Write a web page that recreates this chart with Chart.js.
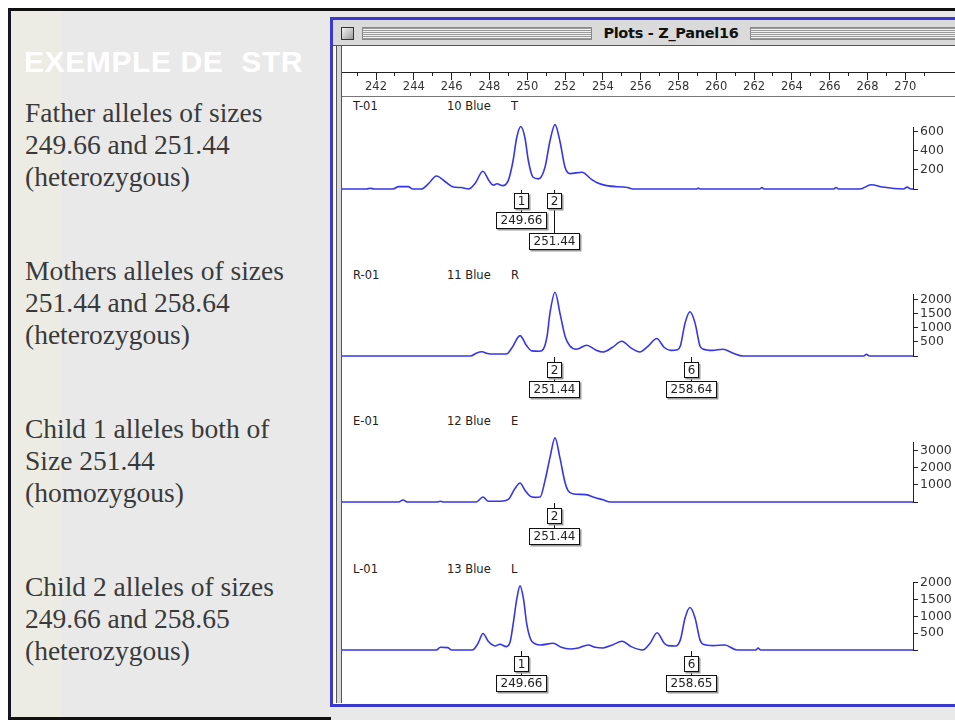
<!DOCTYPE html>
<html><head><meta charset="utf-8">
<script src="https://cdn.jsdelivr.net/npm/chart.js@4.4.1/dist/chart.umd.min.js"></script>
<style>
html,body{margin:0;padding:0;}
body{width:955px;height:720px;position:relative;overflow:hidden;background:#fff;font-family:"DejaVu Sans",sans-serif;}
.a{position:absolute;}
#slide{left:8px;top:8px;width:1000px;height:712px;background:#e9e9e9;border-top:3px solid #111;border-left:3px solid #15152a;box-sizing:border-box;}
#strip{left:11px;top:11px;width:51px;height:706px;background:#ececE4;}
#botline{left:8px;top:717px;width:323px;height:3px;background:#111;}
.heading{left:24px;top:45px;color:#fff;font:bold 30px/34px "Liberation Sans",Arial,sans-serif;white-space:pre;letter-spacing:0.6px;}
.para{left:25px;color:#3a3a3a;font:27.5px/32px "Liberation Serif","Times New Roman",serif;white-space:nowrap;}
#win{left:330px;top:17px;width:700px;height:690px;border:3px solid #3a3ad2;background:#fff;box-sizing:border-box;}
#titlebar{left:333px;top:20px;width:640px;height:26px;background:#dadada;border-bottom:1px solid #555;box-sizing:border-box;}
.stripes{top:27px;height:13px;background:repeating-linear-gradient(to bottom,#9a9a9a 0px,#9a9a9a 1px,#f2f2f2 1px,#f2f2f2 2px);border:1px solid #888;box-sizing:border-box;}
#close{left:341px;top:27px;width:13px;height:13px;border:1px solid #333;background:linear-gradient(135deg,#f4f4f4,#9a9a9a);box-sizing:border-box;}
#title{left:592px;top:25px;width:158px;text-align:center;font:bold 14.5px/17px "DejaVu Sans",sans-serif;letter-spacing:-0.3px;color:#111;background:#dadada;}
#rulerbg{left:342px;top:46px;width:620px;height:51px;background:#fff;border-bottom:1px solid #777;box-sizing:border-box;}
#lframe{left:336px;top:46px;width:6px;height:657px;border-left:1px solid #555;border-right:1px solid #555;background:#d8d8d8;box-sizing:border-box;}
.hdr{font:11.5px/14px "DejaVu Sans",sans-serif;color:#222;white-space:nowrap;}
canvas{position:absolute;}
</style>
</head>
<body>
<div id="slide" class="a"></div>
<div id="strip" class="a"></div>
<div id="botline" class="a"></div>
<div class="a heading">EXEMPLE DE  STR</div>
<div class="a para" style="top:97px">Father alleles of sizes<br>249.66 and 251.44<br>(heterozygous)</div>
<div class="a para" style="top:255px">Mothers alleles of sizes<br>251.44 and 258.64<br>(heterozygous)</div>
<div class="a para" style="top:413px">Child 1 alleles both of<br>Size 251.44<br>(homozygous)</div>
<div class="a para" style="top:571px">Child 2 alleles of sizes<br>249.66 and 258.65<br>(heterozygous)</div>

<div id="win" class="a"></div>
<div id="titlebar" class="a"></div>
<div class="a stripes" style="left:362px;width:230px"></div>
<div class="a stripes" style="left:750px;width:220px"></div>
<div id="close" class="a"></div>
<div id="title" class="a">Plots - Z_Panel16</div>
<div id="rulerbg" class="a"></div>
<div id="lframe" class="a"></div>

<div class="a hdr" style="left:353px;top:99px">T-01</div>
<div class="a hdr" style="left:447px;top:99px">10 Blue</div>
<div class="a hdr" style="left:511px;top:99px">T</div>
<div class="a hdr" style="left:353px;top:268px">R-01</div>
<div class="a hdr" style="left:447px;top:268px">11 Blue</div>
<div class="a hdr" style="left:511px;top:268px">R</div>
<div class="a hdr" style="left:353px;top:414px">E-01</div>
<div class="a hdr" style="left:447px;top:414px">12 Blue</div>
<div class="a hdr" style="left:511px;top:414px">E</div>
<div class="a hdr" style="left:353px;top:562px">L-01</div>
<div class="a hdr" style="left:447px;top:562px">13 Blue</div>
<div class="a hdr" style="left:511px;top:562px">L</div>

<canvas id="ruler" width="613" height="49" style="left:342px;top:47px"></canvas>
<canvas id="cT" width="633" height="141" style="left:342px;top:118px"></canvas>
<canvas id="cR" width="633" height="141" style="left:342px;top:285px"></canvas>
<canvas id="cE" width="633" height="139" style="left:342px;top:433px"></canvas>
<canvas id="cL" width="633" height="127" style="left:342px;top:573px"></canvas>

<script>
// ---------- DATA ----------
// ruler (size axis, bp)
const RULER_MINOR = [241,242,243,244,245,246,247,248,249,250,251,252,253,254,255,256,257,258,259,260,261,262,263,264,265,266,267,268,269,270,271];
const RULER_LABELS = [242,244,246,248,250,252,254,256,258,260,262,264,266,268,270];

// T-01 (father) trace: size (bp) / fluorescence (RFU)
const T_SIZE = [240.2,241.5,241.7,241.9,242.9,243.2,243.7,243.95,244.4,244.75,245.2,245.7,246.1,246.5,246.9,247.25,247.65,248.0,248.2,248.4,248.7,249.0,249.25,249.44,249.66,249.88,250.06,250.3,250.6,250.94,251.2,251.47,251.73,252.0,252.26,252.9,253.4,253.7,254.2,255.3,255.6,258.95,259.05,259.15,262.3,262.42,262.55,266.2,266.34,266.5,267.6,268.2,268.8,269.9,270.1,270.3,270.41];
const T_RFU  = [0,0,8,0,0,25,25,0,0,50,135,70,20,15,0,60,185,80,40,55,35,90,294,531,650,531,294,125,105,226,497,670,497,226,160,175,100,65,35,15,0,0,10,0,0,15,0,0,15,0,0,45,20,0,20,0,0];
const T_TICKS = [0,200,400,600];
const T_ALLELE_SIZES = [249.66,251.44];
const T_ALLELE_NUMS = ['1','2'];
const T_ALLELE_LABELS = ['249.66','251.44'];

// R-01 (mother)
const R_SIZE = [240.2,247.0,247.3,247.6,247.9,248.2,248.9,249.2,249.62,249.95,250.25,250.65,250.85,251.05,251.2,251.47,251.75,252.0,252.26,252.6,253.15,253.6,254.0,254.5,255.0,255.5,255.95,256.4,256.85,257.25,257.6,257.95,258.1,258.35,258.61,258.88,259.14,259.3,259.8,260.35,260.9,261.4,267.8,267.95,268.1,270.41];
const R_RFU  = [0,0,100,150,90,70,70,300,720,380,180,170,240,700,1500,2250,1450,700,350,240,380,220,140,300,520,280,140,350,620,300,200,220,350,1160,1560,1160,350,250,200,240,100,0,0,60,0,0];
const R_TICKS = [0,500,1000,1500,2000];
const R_ALLELE_SIZES = [251.44,258.64];
const R_ALLELE_NUMS = ['2','6'];
const R_ALLELE_LABELS = ['251.44','258.64'];

// E-01 (child 1)
const E_SIZE = [240.2,243.2,243.43,243.65,245.2,245.4,245.6,247.3,247.66,247.95,248.6,249.0,249.35,249.62,249.88,250.15,250.4,250.68,250.94,251.2,251.47,251.73,252.0,252.16,252.4,253.1,253.6,254.0,254.4,270.41];
const E_RFU  = [0,0,120,0,0,40,0,0,290,40,40,150,780,1100,680,340,270,290,1240,2560,3720,2560,1130,660,480,430,250,130,0,0];
const E_TICKS = [0,1000,2000,3000];
const E_ALLELE_SIZES = [251.44];
const E_ALLELE_NUMS = ['2'];
const E_ALLELE_LABELS = ['251.44'];

// L-01 (child 2)
const L_SIZE = [240.2,245.2,245.4,245.8,246.0,247.1,247.4,247.66,247.95,248.3,248.55,248.9,249.1,249.25,249.45,249.62,249.8,249.98,250.25,250.7,251.37,251.8,252.26,252.7,253.22,253.6,254.0,254.5,255.02,255.5,256.1,256.5,256.87,257.25,257.45,257.85,258.1,258.35,258.61,258.88,259.14,259.3,259.85,260.45,261.1,262.1,262.21,262.35,270.41];
const L_RFU  = [0,0,80,70,0,0,200,490,250,120,170,100,250,750,1520,1900,1520,750,250,150,200,80,30,60,150,80,60,150,260,100,0,200,510,200,130,120,300,950,1260,950,300,170,130,150,0,0,60,0,0];
const L_TICKS = [0,500,1000,1500,2000];
const L_ALLELE_SIZES = [249.66,258.65];
const L_ALLELE_NUMS = ['1','6'];
const L_ALLELE_LABELS = ['249.66','258.65'];

// ---------- LAYOUT / STYLE ----------
const X_MIN = 240.2, X_MAX = 270.41, RULER_MAX = 272.63;
const TRACE_COLOR = '#3535ec';
const FONT = '"DejaVu Sans", sans-serif';

function drawBox(ctx, x, y, w, h, text){
  ctx.fillStyle = '#9a9a9a';
  ctx.fillRect(x + 1.5, y + 1.5, w, h);
  ctx.fillStyle = '#fff';
  ctx.fillRect(x, y, w, h);
  ctx.strokeStyle = '#111';
  ctx.lineWidth = 1;
  ctx.strokeRect(x + 0.5, y + 0.5, w - 1, h - 1);
  ctx.fillStyle = '#222';
  ctx.fillText(text, x + w / 2, y + h / 2 + 0.5);
}

const alleleMarks = {
  id: 'alleleMarks',
  afterDatasetsDraw(chart, args, opts){
    if (!opts || !opts.sizes) return;
    const ctx = chart.ctx, xs = chart.scales.x, ys = chart.scales.y;
    const base = Math.round(ys.getPixelForValue(0));
    ctx.save();
    ctx.font = '12px ' + FONT;
    ctx.textAlign = 'center';
    ctx.textBaseline = 'middle';
    opts.sizes.forEach((s, i) => {
      const px = Math.round(xs.getPixelForValue(s)) + 0.5;
      const numTop = base + opts.numOffset, numW = 15, numH = 16;
      const labTop = base + opts.labOffset + (opts.rows[i] || 0) * 21, labH = 17;
      const labW = Math.ceil(ctx.measureText(opts.labels[i]).width) + 9;
      ctx.strokeStyle = '#111';
      ctx.lineWidth = 1;
      ctx.beginPath();
      ctx.moveTo(px, base + 1); ctx.lineTo(px, numTop);
      ctx.moveTo(px, numTop + numH); ctx.lineTo(px, labTop);
      ctx.stroke();
      drawBox(ctx, Math.round(px - numW / 2), numTop, numW, numH, opts.nums[i]);
      drawBox(ctx, Math.round(px - labW / 2), labTop, labW, labH, opts.labels[i]);
    });
    ctx.restore();
  }
};

function panel(id, sizes, rfu, yMax, ticks, aSizes, aNums, aLabels, rows, padTop, padBottom, numOffset, labOffset){
  new Chart(document.getElementById(id), {
    type: 'line',
    data: {
      datasets: [{
        data: sizes.map((s, i) => ({x: s, y: rfu[i]})),
        borderColor: TRACE_COLOR,
        borderWidth: 1.6,
        pointRadius: 0,
        cubicInterpolationMode: 'monotone',
        fill: false,
        clip: false
      }]
    },
    options: {
      responsive: false,
      animation: false,
      devicePixelRatio: 1,
      layout: {padding: {top: padTop, bottom: padBottom, left: 0, right: 0}},
      plugins: {
        legend: {display: false},
        tooltip: {enabled: false},
        alleleMarks: {sizes: aSizes, nums: aNums, labels: aLabels, rows: rows, numOffset: numOffset, labOffset: labOffset}
      },
      scales: {
        x: {type: 'linear', display: false, min: X_MIN, max: X_MAX},
        y: {
          type: 'linear', position: 'right', min: 0, max: yMax,
          afterBuildTicks: s => { s.ticks = ticks.map(v => ({value: v})); },
          afterFit: s => { s.width = 62; },
          ticks: {autoSkip: false, padding: 2, color: '#333', font: {family: FONT, size: 12.5},
                  callback: v => v === 0 ? '' : String(v)},
          grid: {display: true, drawOnChartArea: false, drawTicks: true, tickLength: 5, tickColor: '#222', tickWidth: 1},
          border: {display: true, color: '#222', width: 1}
        }
      }
    },
    plugins: [alleleMarks]
  });
}

// ruler
new Chart(document.getElementById('ruler'), {
  type: 'line',
  data: {datasets: []},
  options: {
    responsive: false, animation: false, devicePixelRatio: 1,
    layout: {padding: {top: 25, bottom: 0, left: 0, right: 0}},
    plugins: {legend: {display: false}, tooltip: {enabled: false}},
    scales: {
      x: {
        type: 'linear', position: 'top', min: X_MIN, max: RULER_MAX,
        afterBuildTicks: s => { s.ticks = RULER_MINOR.map(v => ({value: v})); },
        ticks: {display: false},
        grid: {display: true, drawOnChartArea: true, drawTicks: false, color: '#222', lineWidth: 1},
        border: {display: true, color: '#222', width: 1}
      },
      x2: {
        type: 'linear', axis: 'x', position: 'bottom', min: X_MIN, max: RULER_MAX,
        afterBuildTicks: s => { s.ticks = RULER_LABELS.map(v => ({value: v})); },
        afterFit: s => { s.height = 20; },
        ticks: {autoSkip: false, maxRotation: 0, padding: 0, color: '#333', font: {family: FONT, size: 11.5}},
        grid: {display: true, drawOnChartArea: false, drawTicks: true, tickLength: 4, tickColor: '#222'},
        border: {display: false}
      },
      y: {display: false, min: 0, max: 1}
    }
  }
});

panel('cT', T_SIZE, T_RFU, 640, T_TICKS, T_ALLELE_SIZES, T_ALLELE_NUMS, T_ALLELE_LABELS, [0,1], 8, 70, 4, 23);
panel('cR', R_SIZE, R_RFU, 2170, R_TICKS, R_ALLELE_SIZES, R_ALLELE_NUMS, R_ALLELE_LABELS, [0,0], 8, 70, 6, 25);
panel('cE', E_SIZE, E_RFU, 3450, E_TICKS, E_ALLELE_SIZES, E_ALLELE_NUMS, E_ALLELE_LABELS, [0], 8, 70, 6, 26);
panel('cL', L_SIZE, L_RFU, 2000, L_TICKS, L_ALLELE_SIZES, L_ALLELE_NUMS, L_ALLELE_LABELS, [0,0], 8, 50, 6, 25);
</script>
</body></html>
